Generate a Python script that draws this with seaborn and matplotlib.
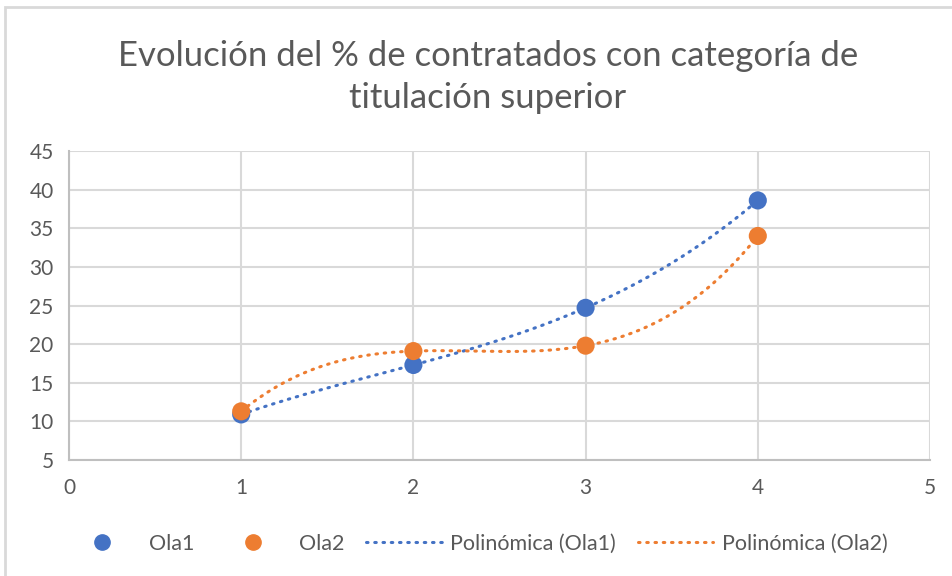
import numpy as np
import pandas as pd
import matplotlib
matplotlib.use("Agg")
import matplotlib.pyplot as plt
import seaborn as sns
from matplotlib.lines import Line2D
from matplotlib.patches import Rectangle

x_vals = [1, 2, 3, 4]
ola1 = [10.9, 17.3, 24.7, 38.6]
ola2 = [11.3, 19.1, 19.8, 34.0]
x_ticks = [0, 1, 2, 3, 4, 5]
y_ticks = [5, 10, 15, 20, 25, 30, 35, 40, 45]
title = "Evolución del % de contratados con categoría de\ntitulación superior"

sns.set_theme(style="white")
plt.rcParams['font.family'] = ['Lato', 'DejaVu Sans']

blue = "#4472C4"
orange = "#ED7D31"
grid_c = "#D9D9D9"
text_c = "#595959"

fig = plt.figure(figsize=(9.52, 5.76), dpi=100)
W, H = 952, 576
ax = fig.add_axes([69 / W, 1 - 460 / H, (930 - 69) / W, (460 - 151) / H])

df = pd.DataFrame({"x": x_vals * 2, "y": ola1 + ola2,
                   "serie": ["Ola1"] * 4 + ["Ola2"] * 4})

# polynomial trendlines (order 3)
xs = np.linspace(1, 4, 200)
trend_rows = []
for name, vals in [("Ola1", ola1), ("Ola2", ola2)]:
    c = np.polyfit(x_vals, vals, 3)
    trend_rows.append(pd.DataFrame({"x": xs, "y": np.polyval(c, xs), "serie": name}))
tdf = pd.concat(trend_rows)
sns.lineplot(data=tdf, x="x", y="y", hue="serie", palette=[blue, orange], ax=ax,
             legend=False, linewidth=2.2, linestyle=(0, (0.5, 2.2)),
             dash_capstyle="round", zorder=3, sort=False)
sns.scatterplot(data=df, x="x", y="y", hue="serie", palette=[blue, orange], ax=ax,
                s=170, edgecolor="none", legend=False, zorder=4)

ax.set_xlim(0, 5)
ax.set_ylim(5, 45)
ax.set_xticks(x_ticks)
ax.set_yticks(y_ticks)
ax.grid(True, color=grid_c, linewidth=1.5)
for s in ["top", "right"]:
    ax.spines[s].set_visible(False)
for s in ["left", "bottom"]:
    ax.spines[s].set_color("#BFBFBF")
    ax.spines[s].set_linewidth(1.5)
ax.set_xlabel("")
ax.set_ylabel("")
ax.tick_params(axis="both", length=0, labelsize=15, labelcolor=text_c)
ax.tick_params(axis="y", pad=11)
ax.tick_params(axis="x", pad=13)

fig.text(488 / W, 1 - 77 / H, title, ha="center", va="center", fontsize=25,
         color=text_c, linespacing=1.38)

handles = [
    Line2D([], [], marker="o", linestyle="none", color=blue, markersize=11),
    Line2D([], [], marker="o", linestyle="none", color=orange, markersize=11),
    Line2D([], [], color=blue, linewidth=2.2, linestyle=(0, (0.5, 2.2)), dash_capstyle="round"),
    Line2D([], [], color=orange, linewidth=2.2, linestyle=(0, (0.5, 2.2)), dash_capstyle="round"),
]
labels = ["Ola1", "Ola2", "Polinómica (Ola1)", "Polinómica (Ola2)"]
leg = fig.legend(handles, labels, loc="center", bbox_to_anchor=(0.5, 1 - 544 / H),
                 ncol=4, frameon=False, fontsize=15.5, handlelength=3.5,
                 columnspacing=1.0, handletextpad=0.4)
for t in leg.get_texts():
    t.set_color(text_c)

# chart frame (partially visible)
fig.patches.append(Rectangle((5 / W, -0.1), 1.2, 1.1 - 7 / H, transform=fig.transFigure,
                             fill=False, edgecolor="#D9D9D9", linewidth=2))

fig.savefig("out.png", dpi=100)
